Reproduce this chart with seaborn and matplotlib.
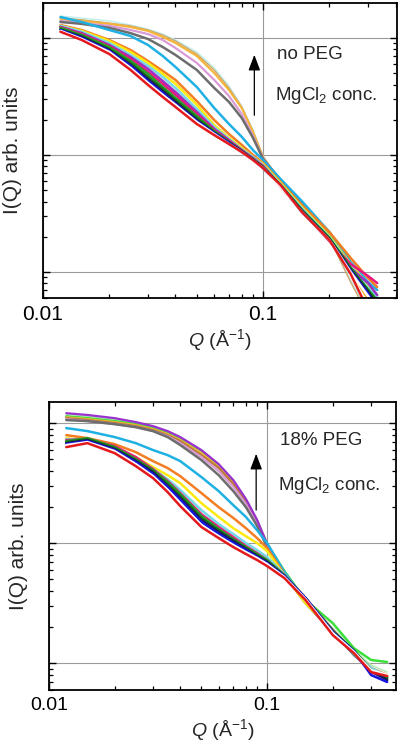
import matplotlib
matplotlib.use("Agg")
import matplotlib.pyplot as plt
import seaborn as sns
from matplotlib.ticker import NullFormatter, LogLocator

sns.set_style("ticks")
plt.rcParams["font.family"] = ["Liberation Sans", "DejaVu Sans"]
plt.rcParams["mathtext.fontset"] = "custom"
plt.rcParams["mathtext.rm"] = "Liberation Sans"
plt.rcParams["mathtext.it"] = "Liberation Sans:italic"

# ---- top panel: no PEG (arb. units) ----
q_top = [0.012, 0.015, 0.02, 0.025, 0.03, 0.035, 0.04, 0.05, 0.06, 0.07,
         0.08, 0.09, 0.1, 0.12, 0.15, 0.2, 0.25, 0.3, 0.33]

top_lightcyan = [154, 148, 140, 129, 119, 108, 96.1, 75.9, 55.4, 38.9, 26.2, 16.4, 9.80, 5.99, 3.81, 1.95, 0.855, 0.455, 0.319]
top_tan = [148, 143, 134, 127, 117, 106, 94.2, 73.0, 53.3, 37.4, 25.7, 16.0, 9.61, 5.88, 3.74, 1.95, 0.821, 0.429, 0.319]
top_gold = [145, 140, 132, 124, 115, 102, 90.6, 70.2, 50.2, 35.9, 25.2, 15.7, 9.61, 5.99, 3.81, 2.03, 1.04, 0.576, 0.389]
top_plum = [140, 134, 127, 117, 108, 96.1, 82.1, 61.2, 43.8, 31.9, 22.4, 14.5, 9.42, 5.99, 3.81, 2.03, 1.08, 0.624, 0.455]
top_grey = [137, 132, 122, 110, 98.0, 83.7, 71.6, 53.3, 37.4, 28.4, 20.7, 14.0, 9.24, 6.11, 3.89, 2.15, 1.15, 0.702, 0.576]
top_skyblue = [151, 137, 117, 104, 87.1, 70.2, 56.5, 38.1, 25.2, 18.4, 14.3, 11.0, 9.06, 6.24, 4.04, 2.20, 1.22, 0.821, 0.702]
top_orange = [129, 117, 96.1, 78.9, 63.6, 52.3, 43.8, 28.9, 19.9, 15.1, 12.2, 10.0, 8.54, 5.88, 3.74, 2.20, 1.32, 0.889, 0.744]
top_yellow = [127, 115, 94.2, 75.9, 61.2, 49.3, 40.5, 26.8, 18.0, 14.0, 11.5, 9.61, 8.37, 5.76, 3.59, 2.03, 1.17, 0.774, 0.636]
top_palecyan = [127, 113, 90.6, 71.6, 57.7, 46.4, 37.4, 24.7, 17.3, 13.7, 11.2, 9.61, 8.22, 5.65, 3.52, 1.99, 1.13, 0.730, 0.611]
top_purple = [124, 110, 87.1, 68.8, 54.4, 42.9, 34.5, 23.3, 16.7, 13.4, 11.0, 9.42, 8.05, 5.43, 3.39, 1.88, 1.08, 0.805, 0.636]
top_pink = [124, 108, 85.4, 66.2, 51.3, 40.5, 32.6, 22.4, 16.4, 13.2, 11.0, 9.24, 8.05, 5.33, 3.32, 1.84, 1.17, 0.924, 0.805]
top_green = [122, 106, 83.7, 63.6, 49.3, 38.1, 30.7, 21.5, 16.0, 12.9, 10.8, 9.24, 7.89, 5.54, 3.39, 1.95, 1.08, 0.702, 0.576]
top_darkgreen = [119, 104, 80.5, 61.2, 46.4, 36.7, 29.5, 20.7, 15.7, 12.9, 10.8, 9.06, 7.89, 5.54, 3.39, 1.95, 1.08, 0.702, 0.554]
top_navy = [117, 102, 78.9, 58.8, 44.6, 35.2, 28.4, 19.9, 15.4, 12.7, 10.8, 9.06, 7.74, 5.43, 3.32, 1.91, 1.04, 0.675, 0.523]
top_blue = [117, 100, 77.4, 57.7, 42.9, 33.9, 27.3, 19.5, 15.4, 12.7, 10.6, 9.06, 7.74, 5.43, 3.26, 1.88, 1.02, 0.649, 0.492]
top_white = [115, 98.0, 75.9, 55.4, 41.3, 32.6, 26.8, 19.1, 15.1, 12.4, 10.6, 8.88, 7.74, 5.33, 3.26, 1.88, 1.00, 0.624, 0.473]
top_red = [113, 96.1, 73.0, 53.3, 39.7, 31.3, 25.7, 18.4, 14.8, 12.4, 10.6, 9.06, 7.74, 5.54, 3.26, 1.88, 0.962, 0.473, 0.352]

# ---- bottom panel: 18% PEG ----
q_bot = [0.012, 0.015, 0.02, 0.025, 0.03, 0.035, 0.04, 0.05, 0.06, 0.07,
         0.08, 0.09, 0.1, 0.12, 0.15, 0.2, 0.25, 0.3, 0.355]

bot_violet = [121, 117, 110, 102, 94.4, 85.8, 76.5, 59.6, 45.5, 33.5, 23.3, 15.6, 9.81, 5.62, 3.29, 1.88, 1.24, 0.909, 0.779]
bot_lightgreen = [119, 114, 108, 100, 92.6, 84.1, 75.0, 58.4, 44.7, 32.9, 22.9, 15.6, 9.81, 5.73, 3.35, 1.96, 1.28, 0.962, 0.841]
bot_lime = [114, 110, 104, 98.1, 90.9, 82.5, 73.6, 57.3, 43.8, 32.2, 22.9, 15.3, 9.81, 5.84, 3.35, 2.15, 1.33, 1.06, 1.02]
bot_gold = [112, 108, 102, 96.2, 89.1, 81.0, 72.2, 56.2, 43.0, 31.6, 22.4, 15.3, 9.81, 5.51, 3.22, 1.85, 1.21, 0.874, 0.750]
bot_brown = [110, 106, 100, 94.4, 87.4, 79.4, 70.8, 54.1, 42.2, 31.0, 22.0, 15.0, 9.62, 5.51, 3.22, 1.85, 1.19, 0.858, 0.722]
bot_plum = [108, 104, 98.1, 92.6, 85.8, 77.9, 68.1, 52.1, 39.8, 29.3, 21.1, 14.4, 9.44, 5.41, 3.16, 1.81, 1.17, 0.841, 0.722]
bot_grey = [106, 104, 98.1, 92.6, 85.8, 76.5, 65.6, 49.2, 36.8, 27.1, 19.9, 13.9, 9.26, 5.41, 3.16, 1.81, 1.17, 0.874, 0.750]
bot_skyblue = [90.9, 85.8, 76.5, 68.1, 59.6, 54.1, 48.2, 35.5, 27.1, 20.7, 16.5, 12.8, 10.0, 5.73, 3.29, 1.88, 1.19, 0.874, 0.722]
bot_orange = [79.4, 75.0, 66.8, 57.3, 48.2, 42.2, 36.1, 26.1, 19.9, 16.2, 13.3, 11.0, 9.08, 5.51, 3.22, 1.88, 1.24, 0.909, 0.794]
bot_yellow = [75.0, 70.8, 63.1, 52.1, 43.0, 36.8, 31.6, 21.5, 16.5, 13.3, 11.4, 10.0, 8.58, 5.41, 3.16, 1.85, 1.21, 0.891, 0.779]
bot_palecyan = [73.6, 72.2, 63.1, 51.1, 41.4, 34.1, 27.7, 18.8, 14.4, 11.9, 10.0, 8.74, 7.64, 5.51, 3.35, 1.88, 1.24, 0.909, 0.779]
bot_pink = [72.2, 73.6, 64.3, 52.1, 41.4, 32.9, 26.1, 17.4, 13.6, 11.2, 9.44, 8.25, 7.22, 5.41, 3.48, 1.88, 1.24, 0.841, 0.750]
bot_green = [70.8, 75.0, 63.1, 50.1, 40.6, 32.2, 25.6, 16.8, 13.1, 10.8, 9.26, 8.10, 7.22, 5.41, 3.48, 1.85, 1.28, 0.874, 0.765]
bot_darkgreen = [69.5, 73.6, 61.9, 49.2, 39.8, 31.0, 24.7, 16.2, 12.8, 10.6, 9.08, 7.94, 7.08, 5.31, 3.48, 1.85, 1.26, 0.874, 0.750]
bot_navy = [68.1, 72.2, 60.7, 48.2, 39.0, 29.9, 23.7, 15.6, 12.4, 10.4, 8.91, 7.79, 6.95, 5.31, 3.48, 1.81, 1.26, 0.858, 0.722]
bot_blue = [66.8, 70.8, 59.6, 47.3, 37.6, 29.3, 22.9, 15.0, 11.9, 10.0, 8.74, 7.64, 6.81, 5.31, 3.48, 1.81, 1.26, 0.794, 0.695]
bot_white = [65.6, 69.5, 58.4, 45.5, 36.1, 27.7, 21.5, 14.1, 11.4, 9.62, 8.41, 7.50, 6.68, 5.21, 3.41, 1.78, 1.24, 0.874, 0.794]
bot_red = [63.1, 68.1, 56.2, 43.8, 34.8, 26.6, 20.3, 13.6, 11.0, 9.26, 8.10, 7.22, 6.43, 5.11, 3.35, 1.71, 1.21, 0.841, 0.779]

x_ticks = [0.01, 0.1]
x_tick_labels = ["0.01", "0.1"]

# (values, colour, line width) - drawn in this order
top_curves = [
    (top_lightcyan, "#bfeeee", 1.0), (top_tan, "#c9a66b", 1.0),
    (top_gold, "#f4b43c", 1.6), (top_plum, "#d99bd8", 1.6),
    (top_grey, "#6d6d6d", 1.8), (top_skyblue, "#1fb0e4", 1.8),
    (top_orange, "#f37d22", 1.8), (top_yellow, "#fde910", 1.8),
    (top_palecyan, "#73d9e6", 1.8), (top_purple, "#9a2fc6", 1.8),
    (top_pink, "#e6197e", 1.8), (top_green, "#2aa02a", 1.8),
    (top_darkgreen, "#137513", 1.8), (top_navy, "#1c1c5a", 1.8),
    (top_blue, "#1515e0", 1.8), (top_white, "#ffffff", 1.8),
    (top_red, "#e3191c", 1.8),
]
bot_curves = [
    (bot_lightgreen, "#aeeaae", 1.0), (bot_lime, "#3be03b", 1.8),
    (bot_gold, "#f4b43c", 1.6), (bot_brown, "#b97a3a", 1.6),
    (bot_plum, "#d99bd8", 1.6), (bot_grey, "#6d6d6d", 1.8),
    (bot_violet, "#9b30d0", 1.6), (bot_skyblue, "#1fb0e4", 1.8),
    (bot_orange, "#f37d22", 1.8), (bot_yellow, "#fde910", 1.8),
    (bot_palecyan, "#73d9e6", 1.8), (bot_pink, "#e6197e", 1.8),
    (bot_green, "#2aa02a", 1.8), (bot_darkgreen, "#137513", 1.8),
    (bot_navy, "#1c1c5a", 1.8), (bot_blue, "#1515e0", 1.8),
    (bot_white, "#ffffff", 1.8), (bot_red, "#e3191c", 1.8),
]


def draw_panel(ax, q, curves, xlim, ylim, tick_fs, label):
    ax.set_xscale("log")
    ax.set_yscale("log")
    for vals, color, lw in curves:
        sns.lineplot(x=q, y=vals, color=color, lw=lw, ax=ax, estimator=None, sort=False)
    ax.set_xlim(*xlim)
    ax.set_ylim(*ylim)
    ax.set_xticks(x_ticks, x_tick_labels)
    ax.xaxis.set_minor_locator(LogLocator(base=10, subs=range(2, 10)))
    ax.xaxis.set_minor_formatter(NullFormatter())
    ax.yaxis.set_major_locator(LogLocator(base=10))
    ax.yaxis.set_minor_locator(LogLocator(base=10, subs=range(2, 10)))
    ax.yaxis.set_major_formatter(NullFormatter())
    ax.yaxis.set_minor_formatter(NullFormatter())
    ax.grid(True, which="major", color="#9a9a9a", lw=0.8)
    ax.set_axisbelow(True)
    ax.tick_params(which="both", direction="in", top=True, right=True, colors="black")
    ax.tick_params(which="major", length=5, width=1.0, labelsize=tick_fs, pad=5)
    ax.tick_params(which="minor", length=3, width=0.9)
    for sp in ax.spines.values():
        sp.set_color("black")
        sp.set_linewidth(1.3)
    ax.set_xlabel(r"$Q$ (Å$^{-1}$)", fontsize=14, labelpad=2)
    ax.set_ylabel("I(Q) arb. units", fontsize=15, labelpad=10)
    # arrow and annotation
    ax.annotate("", xy=(0.597, label["arrow"][1]), xytext=(0.597, label["arrow"][0]),
                xycoords="axes fraction",
                arrowprops=dict(arrowstyle="-|>,head_length=0.8,head_width=0.3",
                                color="black", lw=0.9, mutation_scale=12))
    ax.text(label["tx"], label["ty1"], label["title"], transform=ax.transAxes,
            fontsize=13.5, va="center", ha="left")
    ax.text(label["tx"] - 0.005, label["ty2"], r"MgCl$_2$ conc.", transform=ax.transAxes,
            fontsize=13.5, va="center", ha="left")


fig = plt.figure(figsize=(4, 7.44), dpi=100)
ax1 = fig.add_axes([43 / 400, 1 - 298 / 744, 354 / 400, 295 / 744])
ax2 = fig.add_axes([49 / 400, 1 - 690 / 744, 347 / 400, 288 / 744])

draw_panel(ax1, q_top, top_curves, (0.01, 0.406), (0.60, 199), 15,
           dict(title="no PEG", arrow=(0.61, 0.834), tx=0.661, ty1=0.824, ty2=0.685))
draw_panel(ax2, q_bot, bot_curves, (0.01, 0.39), (0.596, 150), 14,
           dict(title="18% PEG", arrow=(0.615, 0.83), tx=0.666, ty1=0.868, ty2=0.71))

fig.savefig("out.png", dpi=100)
